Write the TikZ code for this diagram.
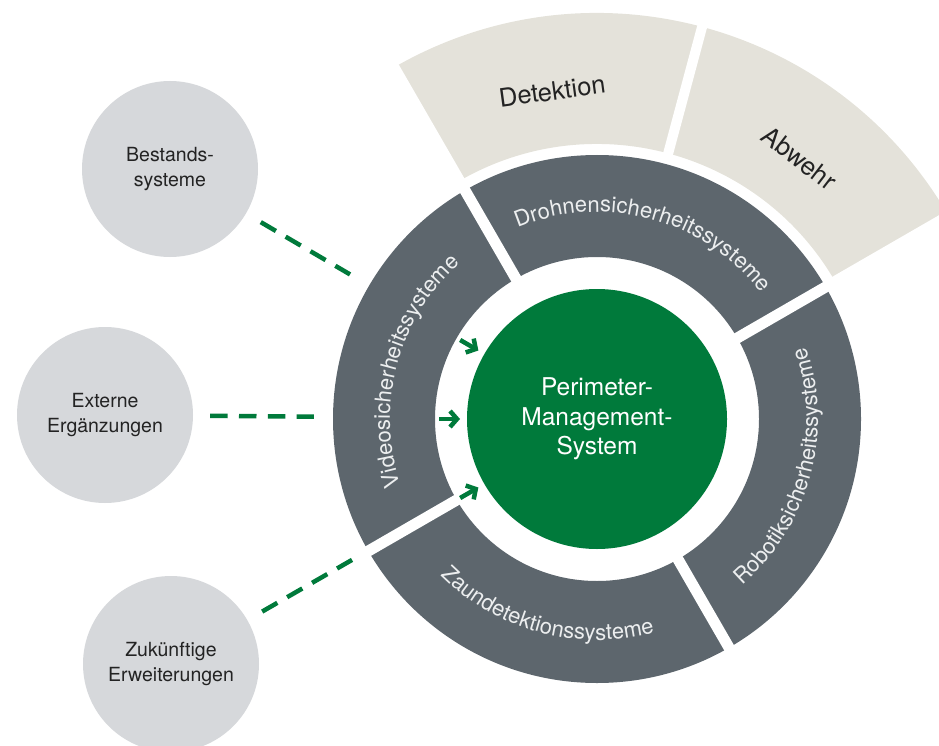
\documentclass[tikz,border=0pt]{standalone}
\usepackage{fontspec}
\setmainfont{TeX Gyre Heros}
\usetikzlibrary{arrows.meta,decorations.text}
\definecolor{pmsgreen}{RGB}{0,122,59}
\definecolor{ringgray}{RGB}{93,102,109}
\definecolor{beigebg}{RGB}{228,226,218}
\definecolor{sidegray}{RGB}{214,216,219}
\definecolor{textdark}{RGB}{35,35,35}
\definecolor{ringtext}{RGB}{236,238,239}
\newcommand\ringfont{\fontsize{22}{26}\selectfont\color{ringtext}}
\begin{document}
\begin{tikzpicture}[x=1pt,y=1pt,
  sidecirc/.style={circle,fill=sidegray,minimum size=176pt,inner sep=0pt,align=center,text=textdark,font=\fontsize{19.5}{25}\selectfont},
  pmsnode/.style={circle,fill=pmsgreen,minimum size=260pt,inner sep=0pt,align=center,text=white,font=\fontsize{24.5}{29.5}\selectfont},
  beigelabel/.style={text=textdark,font=\fontsize{25.5}{30}\selectfont,inner sep=0pt},
  gapline/.style={white,line width=11pt},
  dashline/.style={draw=pmsgreen,line width=4.5pt,dash pattern=on 17.5pt off 11.3pt},
  pmsarrow/.style={draw=pmsgreen,line width=4.5pt,-{Straight Barb[length=7pt,width=16pt]}},
  ringlabel/.style={decorate,decoration={text along path,text align=center,text={#1}}}
]
\clip (0,0) rectangle (939,-746);
\begin{scope}[shift={(597,-419)}]
  % outer beige sectors
  \fill[beigebg] (30:406) arc[start angle=30,end angle=120,radius=406]
     -- (120:275) arc[start angle=120,end angle=30,radius=275] -- cycle;
  % dark ring
  \fill[ringgray,even odd rule] (0,0) circle[radius=264] (0,0) circle[radius=162];
  % gaps
  \draw[gapline] (30:150) -- (30:420);
  \draw[gapline] (120:150) -- (120:420);
  \draw[gapline] (210:150) -- (210:275);
  \draw[gapline] (300:150) -- (300:275);
  \draw[white,line width=10pt] (75:270) -- (75:420);
  % centre
  \node[pmsnode] (pms) at (0,0) {Perimeter-\\Management-\\System};
  % ring labels
  \path[ringlabel={|\ringfont|Drohnensicherheitssysteme}] (119:207) arc[start angle=119,end angle=31,radius=207];
  \path[ringlabel={|\ringfont|Videosicherheitssysteme}] (209:207) arc[start angle=209,end angle=121,radius=207];
  \path[ringlabel={|\ringfont|Zaundetektionssysteme}] (211:221) arc[start angle=211,end angle=299,radius=221];
  \path[ringlabel={|\ringfont|Robotiksicherheitssysteme}] (-59:221) arc[start angle=-59,end angle=29,radius=221];
  % beige labels
  \node[beigelabel,rotate=7.8] (det) at (97.8:331) {Detektion};
  \node[beigelabel,rotate=-37.5] (abw) at (52.2:330) {Abwehr};
  % arrows
  \coordinate (a1) at (150:158);
  \coordinate (a2) at (180:158);
  \coordinate (a3) at (210:158);
  \draw[pmsarrow] (a1) -- (150:137);
  \draw[pmsarrow] (a2) -- (180:137);
  \draw[pmsarrow] (a3) -- (210:137);
\end{scope}
% side circles
\node[sidecirc] (bestand) at (170,-169) {Bestands-\\systeme};
\node[sidecirc] (extern) at (105,-415) {Externe\\Ergänzungen};
\node[sidecirc] (zukunft) at (171,-664) {Zukünftige\\Erweiterungen};
% dashed connectors
\draw[dashline,shorten <=17pt,shorten >=156pt] (bestand) -- (pms);
\draw[dashline,shorten <=17pt,shorten >=153pt] (extern) -- (pms);
\draw[dashline,shorten <=17pt,shorten >=152.4pt] (zukunft) -- (pms);
\end{tikzpicture}
\end{document}
